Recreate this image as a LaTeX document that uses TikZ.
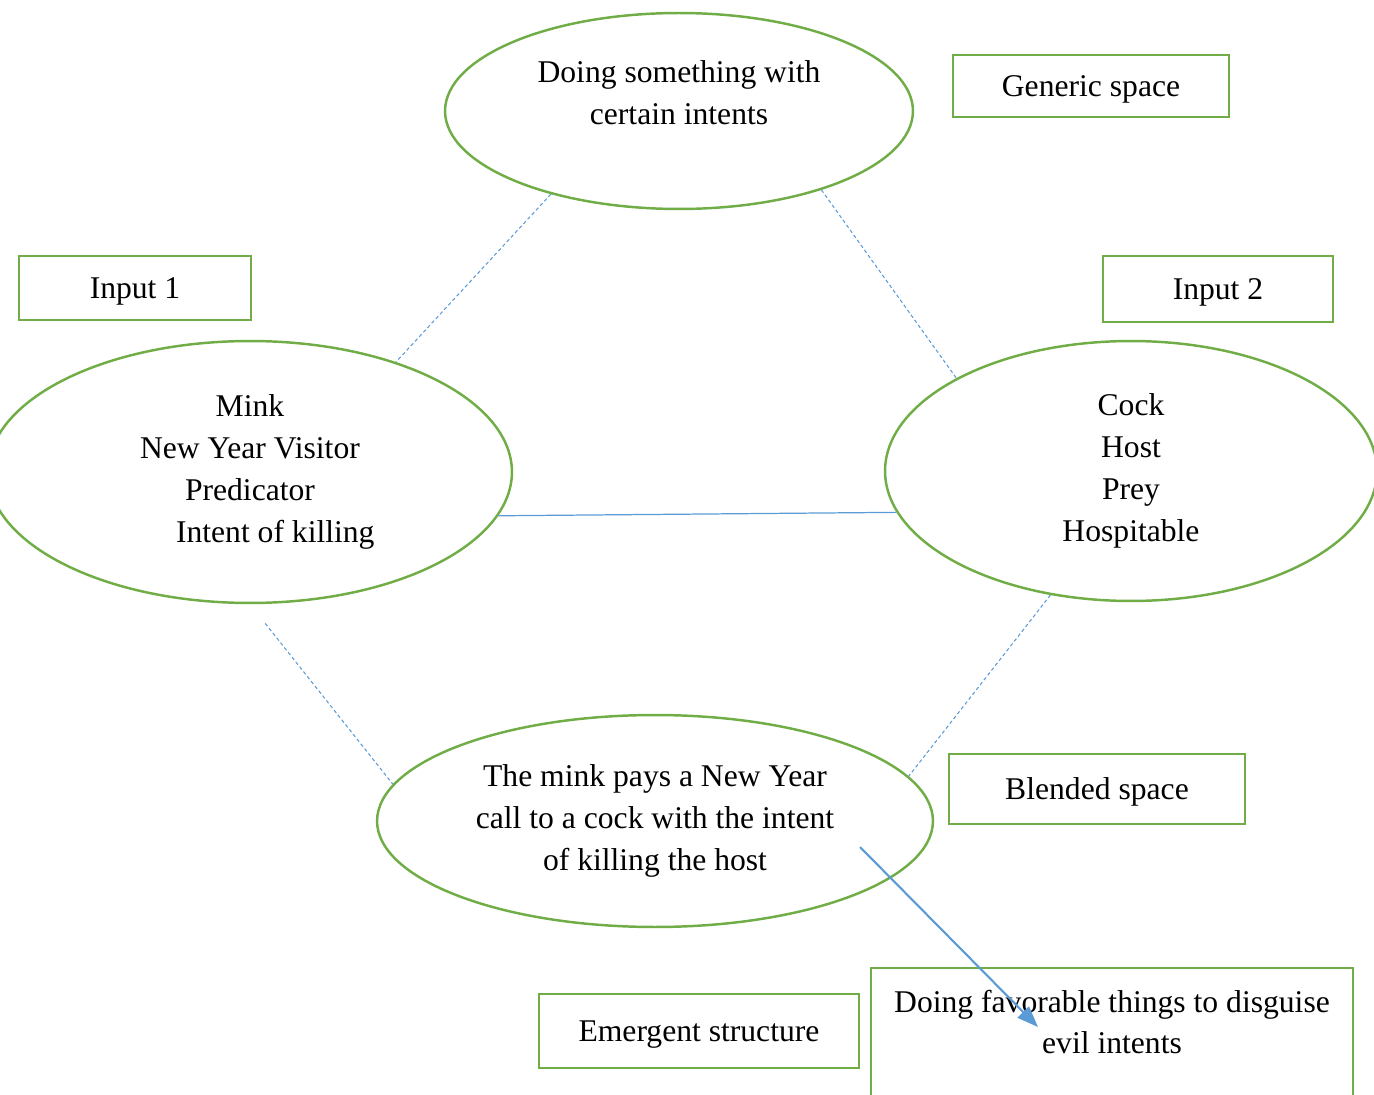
\documentclass[tikz,border=0pt]{standalone}
\usepackage{fontspec}
\setmainfont{Liberation Serif}
\usetikzlibrary{shapes.geometric,arrows.meta}
\definecolor{framegreen}{HTML}{70AD47}
\definecolor{wireblue}{HTML}{5B9BD5}
\begin{document}
\begin{tikzpicture}[
                            x=0.02cm, y=-0.02cm,
                            font=\fontsize{18pt}{23.8pt}\selectfont,
                            >={Triangle[length=12pt,width=9pt]},
                            spaceellipse/.style={ellipse, draw=framegreen, line width=1.4pt, inner sep=0pt, align=center},
                            spacebox/.style={rectangle, draw=framegreen, line width=1.4pt, inner sep=0pt, align=center, text depth=0pt},
                            maplink/.style={draw=wireblue, line width=0.6pt, dash pattern=on 2pt off 1.5pt},
                            crosslink/.style={draw=wireblue, line width=0.7pt}
                        ]
                        \useasboundingbox (0,0) rectangle (1374,1095);
                        \clip (0,0) rectangle (1374,1095);
                        % Spaces
                        \node [spaceellipse, minimum width=9.36cm, minimum height=3.92cm] (generic) at (679,111) {};
                        \node [align=center] (generictext) at (679,93) {Doing something with\\certain intents};
                        \node [spaceellipse, minimum width=10.48cm, minimum height=5.24cm] (mink) at (250,472) {Mink\\New Year Visitor\\Predicator\\\hspace*{1.6em}Intent of killing};
                        \node [spaceellipse, minimum width=9.84cm, minimum height=5.2cm] (cock) at (1131,471) {Cock\\Host\\Prey\\Hospitable};
                        \node [spaceellipse, minimum width=11.12cm, minimum height=4.24cm] (blend) at (655,821) {The mink pays a New Year\\call to a cock with the intent\\of killing the host};
                    
                        % Labels
                        \node [spacebox, minimum width=5.52cm, minimum height=1.24cm] (genericlabel) at (1091,86) {Generic space};
                        \node [spacebox, minimum width=4.64cm, minimum height=1.28cm] (inputone) at (135,288) {Input 1};
                        \node [spacebox, minimum width=4.6cm, minimum height=1.32cm] (inputtwo) at (1218,289) {Input 2};
                        \node [spacebox, minimum width=5.92cm, minimum height=1.4cm] (blendlabel) at (1097,789) {Blended space};
                        \node [spacebox, minimum width=6.4cm, minimum height=1.48cm] (emergent) at (699,1031) {Emergent structure};
                        \node [spacebox, minimum width=9.64cm, minimum height=3.84cm] (evilbox) at (1112,1064) {};
                        \node [align=center] (eviltext) at (1112,1022) {Doing favorable things to disguise\\evil intents};
                        \coordinate (arrowstart) at (860,847);
                        \coordinate (arrowend) at (1038,1027);
                    
                        % Connections
                        \draw [maplink] (generic.213) -- (mink.37);
                        \draw [maplink] (generic.331) -- (cock.152);
                        \draw [crosslink] (mink.350) -- (cock.190);
                        \draw [maplink, shorten <=0.49cm] (mink.south) -- (blend.172);
                        \draw [maplink] (cock.237) -- (blend.10);
                        \draw [crosslink, line width=1.2pt, ->] (arrowstart) -- (arrowend);
                    \end{tikzpicture}
\end{document}
